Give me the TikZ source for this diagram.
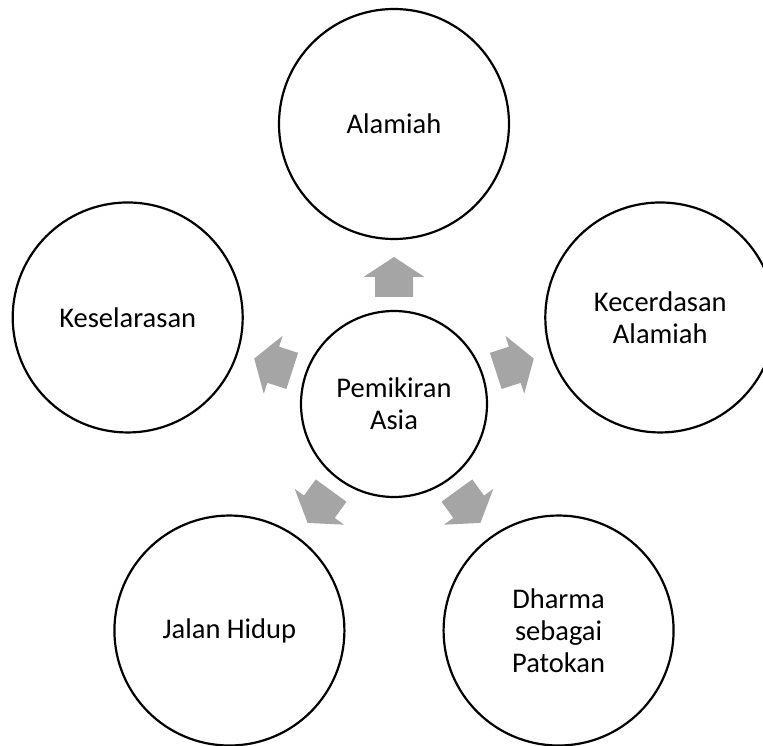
\documentclass[tikz,border=0pt]{standalone}
\usepackage{fontspec}
\setmainfont{Carlito}
\usetikzlibrary{calc}
\definecolor{arrowgray}{HTML}{A5A5A5}
\begin{document}
\begin{tikzpicture}[x=1pt,y=1pt,
  bubble/.style={circle,draw=black,line width=2.2pt,fill=white,minimum size=230pt,inner sep=0pt,align=center,font=\fontsize{28.5}{32}\selectfont},
  hub/.style={bubble,minimum size=186pt},
  blockarrow/.style={fill=arrowgray}]
\useasboundingbox (0,0) rectangle (763,745);
\clip (0,0) rectangle (763,745);
\coordinate (c) at (394,341);
\foreach \a in {90,18,-54,-126,162}{
  \fill[blockarrow,shift={(c)},rotate=\a] (107,-19) -- (127,-19) -- (127,-30.5) -- (147,0) -- (127,30.5) -- (127,19) -- (107,19) -- cycle;
}
\node[hub] (center) at (c) {Pemikiran\\Asia};
\node[bubble] (top) at ($(c)+(90:280)$) {Alamiah};
\node[bubble] (right) at ($(c)+(18:280)$) {Kecerdasan\\Alamiah};
\node[bubble] (dharma) at ($(c)+(-54:280)$) {Dharma\\sebagai\\Patokan};
\node[bubble] (jalan) at ($(c)+(-126:280)$) {Jalan Hidup};
\node[bubble] (left) at ($(c)+(162:280)$) {Keselarasan};
\end{tikzpicture}
\end{document}
